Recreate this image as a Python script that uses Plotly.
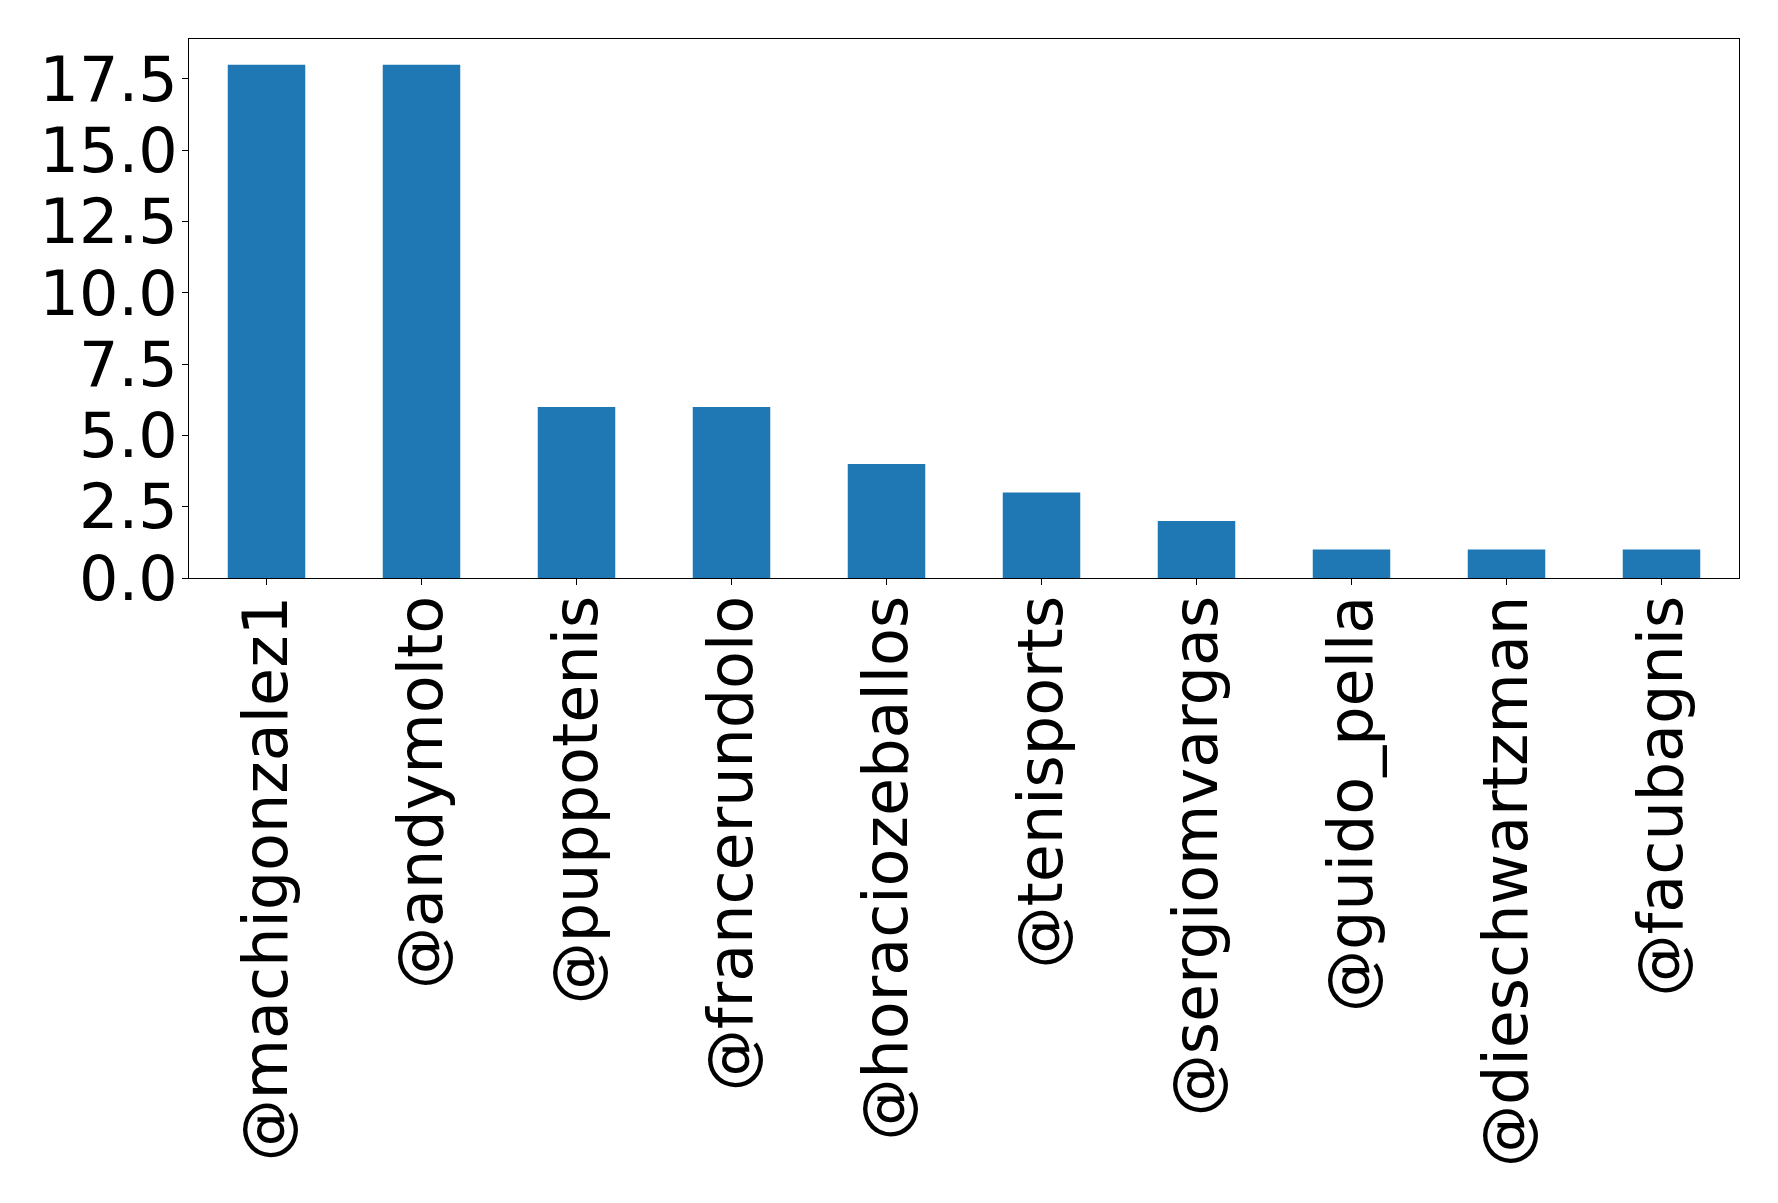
import plotly.graph_objects as go

users = ["@machigonzalez1", "@andymolto", "@puppotenis", "@francerundolo",
         "@horaciozeballos", "@tenisports", "@sergiomvargas", "@guido_pella",
         "@dieschwartzman", "@facubagnis"]
counts = [18, 18, 6, 6, 4, 3, 2, 1, 1, 1]
y_ticks = [0, 2.5, 5, 7.5, 10, 12.5, 15, 17.5]
y_tick_text = ["0.0", "2.5", "5.0", "7.5", "10.0", "12.5", "15.0", "17.5"]

fig = go.Figure(go.Bar(x=list(range(len(users))), y=counts, width=0.5,
                       marker=dict(color="#1f77b4", line=dict(width=0))))

font = dict(family="DejaVu Sans", size=62, color="black")
fig.update_layout(
    width=1778, height=1203,
    margin=dict(l=181, r=47, t=31, b=633, autoexpand=False),
    paper_bgcolor="white", plot_bgcolor="white",
    showlegend=False,
    font=font,
)
fig.update_xaxes(
    range=[-0.5, len(users) - 0.5],
    tickmode="array", tickvals=list(range(len(users))), ticktext=users,
    tickangle=-90, ticks="outside", ticklen=6, tickwidth=1, tickcolor="black",
    showline=True, linecolor="black", linewidth=1, mirror=True,
    showgrid=False, zeroline=False, tickfont=font, ticklabelstandoff=-14,
)
fig.update_yaxes(
    range=[0, 18.9],
    tickmode="array", tickvals=y_ticks, ticktext=y_tick_text,
    ticks="outside", ticklen=6, tickwidth=1, tickcolor="black",
    showline=True, linecolor="black", linewidth=1, mirror=True,
    showgrid=False, zeroline=False, tickfont=font, ticklabelstandoff=-8,
)
fig.write_html("out.html")
